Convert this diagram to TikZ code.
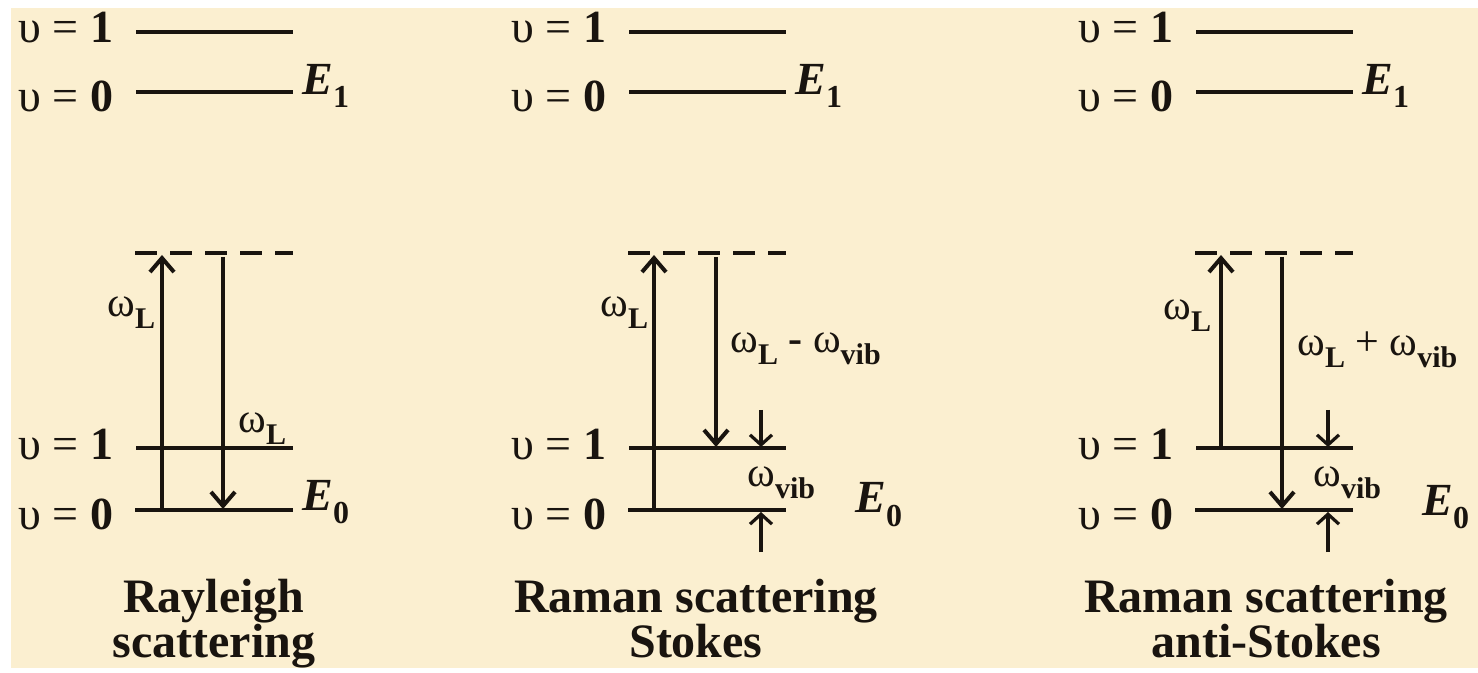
\documentclass[tikz,border=0pt]{standalone}
\usepackage{fontspec}
\setmainfont{Liberation Serif}
\usetikzlibrary{arrows.meta,positioning}
\definecolor{parchment}{RGB}{251,239,208}
\definecolor{ink}{RGB}{25,20,15}
\newcommand{\sbf}[1]{\raisebox{-6pt}{\fontsize{15}{15}\selectfont\bfseries #1}}
\newcommand{\wL}{ω\sbf{L}}
\newcommand{\wvib}{ω\sbf{vib}}
\newcommand{\Elev}[1]{\textbf{\textit{E}}\raisebox{-6.5pt}{\fontsize{16}{16}\selectfont\bfseries #1}}
\tikzset{
  level/.style={draw=ink, line width=2pt},
  virtual/.style={draw=ink, line width=2pt, dash pattern=on 11pt off 6.5pt},
  photon/.style={draw=ink, line width=2pt, -{Straight Barb[length=7pt, width=12pt]}},
  gap/.style={draw=ink, line width=1.6pt, -{Straight Barb[length=5pt, width=11pt]}},
  vib/.style={text=ink, font=\fontsize{23}{26}\selectfont, inner sep=0pt, anchor=base west},
  wlab/.style={text=ink, font=\fontsize{21}{24}\selectfont, inner sep=0pt, anchor=base west},
  title/.style={text=ink, font=\fontsize{24}{22.5}\selectfont\bfseries, align=center, inner sep=0pt, anchor=base}
}

\begin{document}
\begin{tikzpicture}[x=0.5pt, y=-0.5pt]
  \useasboundingbox (0,0) rectangle (1478,673);
  \fill[parchment] (11,8) rectangle (1478,668);

  % levels shared by the three panels
  \foreach \p/\dx in {r/0, s/493, a/1060}{
    \begin{scope}[xshift=\dx*0.5pt]
      % upper electronic state
      \node[vib] (\p-n1) at (18,43) {υ = \textbf{1}};
      \node[vib] (\p-n0) at (18,112) {υ = \textbf{0}};
      \coordinate (\p-e1a) at (136,32);
      \coordinate (\p-e1b) at (293,32);
      \coordinate (\p-e0a) at (136,92);
      \coordinate (\p-e0b) at (293,92);
      \draw[level] (\p-e1a) -- (\p-e1b);
      \draw[level] (\p-e0a) -- (\p-e0b);
      \node[vib] (\p-E1) at (302,95) {\Elev{1}};
      % virtual level
      \coordinate (\p-va) at (135,253);
      \coordinate (\p-vb) at (293,253);
      \draw[virtual] (\p-va) -- (\p-vb);
      % ground electronic state
      \node[vib] (\p-g1) at (18,460) {υ = \textbf{1}};
      \node[vib] (\p-g0) at (18,530) {υ = \textbf{0}};
      \coordinate (\p-g1a) at (136,448);
      \coordinate (\p-g1b) at (293,448);
      \coordinate (\p-g0a) at (135,510);
      \coordinate (\p-g0b) at (293,510);
      \draw[level] (\p-g1a) -- (\p-g1b);
      \draw[level] (\p-g0a) -- (\p-g0b);
    \end{scope}
  }

  % Rayleigh
  \coordinate (r-up0) at (162,510);
  \coordinate (r-up1) at (162,255);
  \coordinate (r-dn0) at (223,257);
  \coordinate (r-dn1) at (223,509);
  \draw[photon] (r-up0) -- (r-up1);
  \draw[photon] (r-dn0) -- (r-dn1);
  \node[wlab] (r-win) at (107,317) {\wL};
  \node[wlab] (r-wout) at (238,433) {\wL};
  \node[vib] (r-E0) at (302,510) {\Elev{0}};
  \node[title] (r-title) at (214,657) {Rayleigh\\scattering};

  % Stokes
  \coordinate (s-up0) at (654,510);
  \coordinate (s-up1) at (654,255);
  \coordinate (s-dn0) at (716,257);
  \coordinate (s-dn1) at (716,447);
  \draw[photon] (s-up0) -- (s-up1);
  \draw[photon] (s-dn0) -- (s-dn1);
  \coordinate (s-ga) at (761,410);
  \coordinate (s-gb) at (761,447);
  \coordinate (s-gc) at (761,552);
  \coordinate (s-gd) at (761,512);
  \draw[gap] (s-ga) -- (s-gb);
  \draw[gap] (s-gc) -- (s-gd);
  \node[wlab] (s-win) at (600,317) {\wL};
  \node[wlab] (s-wout) at (730,353) {\wL\ \textbf{-}\ \wvib};
  \node[wlab] (s-wvib) at (747,487) {\wvib};
  \node[vib] (s-E0) at (855,513) {\Elev{0}};
  \node[title] (s-title) at (696,657) {Raman scattering\\Stokes};

  % anti-Stokes
  \coordinate (a-up0) at (1221,448);
  \coordinate (a-up1) at (1221,255);
  \coordinate (a-dn0) at (1282,257);
  \coordinate (a-dn1) at (1282,509);
  \draw[photon] (a-up0) -- (a-up1);
  \draw[photon] (a-dn0) -- (a-dn1);
  \coordinate (a-ga) at (1328,410);
  \coordinate (a-gb) at (1328,447);
  \coordinate (a-gc) at (1328,552);
  \coordinate (a-gd) at (1328,512);
  \draw[gap] (a-ga) -- (a-gb);
  \draw[gap] (a-gc) -- (a-gd);
  \node[wlab] (a-win) at (1163,320) {\wL};
  \node[wlab] (a-wout) at (1297,356) {\wL\ + \wvib};
  \node[wlab] (a-wvib) at (1313,487) {\wvib};
  \node[vib] (a-E0) at (1422,516) {\Elev{0}};
  \node[title] (a-title) at (1266,657) {Raman scattering\\anti-Stokes};
\end{tikzpicture}
\end{document}
